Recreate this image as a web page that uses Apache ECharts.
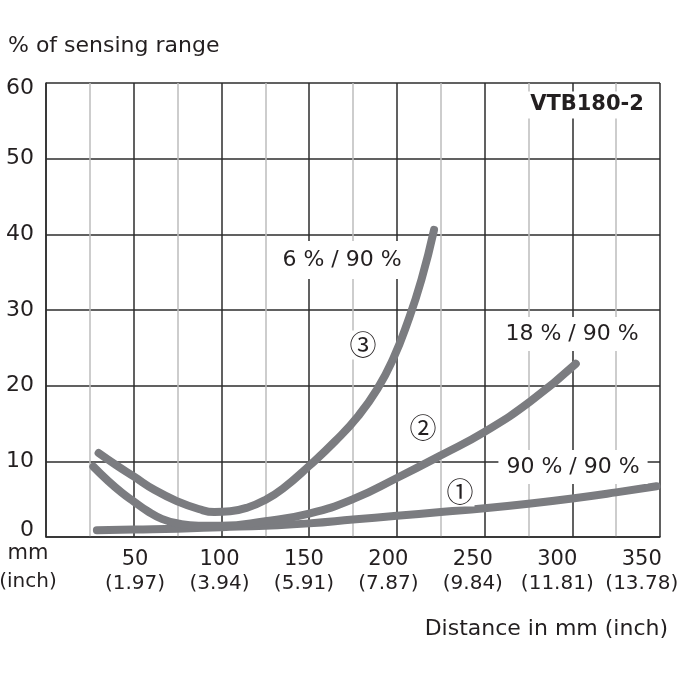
<!DOCTYPE html>
<html>
<head>
<meta charset="utf-8">
<script src="https://cdn.jsdelivr.net/npm/echarts@6/dist/echarts.min.js"></script>
<style>
  html, body { margin: 0; padding: 0; background: #fff; }
  #main { width: 680px; height: 680px; }
</style>
</head>
<body>
<div id="main"></div>
<script>
// tick labels
const mmTicks = [50, 100, 150, 200, 250, 300, 350];
const inchTicks = ['1.97', '3.94', '5.91', '7.87', '9.84', '11.81', '13.78'];

// curve 1: 90 % / 90 %
const dist1 = [29, 50, 75, 100, 125, 150, 175, 200, 225, 250, 275, 300, 325, 348];
const range1 = [0.9, 1.0, 1.1, 1.3, 1.5, 1.8, 2.3, 2.8, 3.3, 3.8, 4.4, 5.1, 5.9, 6.7];

// curve 2: 18 % / 90 %
const dist2 = [27, 35, 43, 50, 58, 66, 75, 87, 100, 125, 150, 175, 200, 226, 250, 276, 302];
const range2 = [9.3, 7.5, 5.9, 4.7, 3.4, 2.4, 1.8, 1.5, 1.5, 2.1, 3.1, 5.0, 7.8, 10.9, 13.9, 17.9, 22.9];

// curve 3: 6 % / 90 %
const dist3 = [30, 40, 50, 62, 75, 87, 96, 105, 115, 125, 135, 150, 165, 178, 189, 198, 206, 214, 221.2];
const range3 = [11.1, 9.5, 8.0, 6.2, 4.7, 3.7, 3.3, 3.4, 3.9, 4.9, 6.4, 9.4, 12.7, 16.0, 19.6, 23.6, 28.3, 34.0, 40.6];

const FONT = '"DejaVu Sans", "Noto Sans", sans-serif';
const CIRCLED = '"Noto Sans CJK JP", "DejaVu Sans", sans-serif';
const INK = '#231f20';
const CURVE = '#7b7c80';

const pairs = (xs, ys) => xs.map((x, i) => [x, ys[i]]);

const curve = (name, xs, ys) => ({
  name: name,
  type: 'line',
  data: pairs(xs, ys),
  smooth: 0.5,
  symbol: 'none',
  clip: false,
  lineStyle: { width: 8, color: CURVE, cap: 'round', join: 'round' }
});

const note = (text, x, y, align, size) => ({
  type: 'text',
  z: 100,
  style: {
    text: text, x: x, y: y, align: align, verticalAlign: 'middle',
    font: (size || 22) + 'px ' + FONT, fill: INK
  }
});

const boxed = (text, x, y, font, pad) => ({
  type: 'text',
  z: 100,
  style: {
    text: text, x: x, y: y, align: 'center', verticalAlign: 'middle',
    font: font, fill: INK, backgroundColor: '#fff', padding: pad
  }
});

const myChart = echarts.init(document.getElementById('main'));
const option = {
  animation: false,
  backgroundColor: '#fff',
  grid: { left: 46, right: 20, top: 83, bottom: 143, outerBoundsMode: 'none' },
  xAxis: [
    {
      type: 'value',
      min: 0,
      max: 350,
      interval: 50,
      axisLine: { show: true, lineStyle: { color: '#2d2d2d', width: 1.5 } },
      axisTick: { show: false },
      axisLabel: { show: false },
      splitLine: { show: true, lineStyle: { color: '#2d2d2d', width: 1.5 } },
      minorTick: { show: false, splitNumber: 2 },
      minorSplitLine: { show: true, lineStyle: { color: '#bdbdbd', width: 1.5 } }
    },
    {
      // label-only axis: the printed labels sit slightly left of the grid lines
      type: 'value',
      min: -2.7,
      max: 360.8,
      position: 'bottom',
      axisLine: { show: false },
      axisTick: { show: false },
      splitLine: { show: false },
      axisLabel: {
        customValues: mmTicks,
        margin: 11,
        formatter: function (v) {
          const i = mmTicks.indexOf(v);
          if (i < 0) return '';
          return '{a|' + v + '}\n{b|(' + inchTicks[i] + ')}';
        },
        rich: {
          a: { fontFamily: FONT, fontSize: 21, color: INK, lineHeight: 24 },
          b: { fontFamily: FONT, fontSize: 20, color: INK, lineHeight: 24 }
        }
      }
    }
  ],
  yAxis: {
    type: 'value',
    min: 0,
    max: 60,
    interval: 10,
    axisLine: { show: true, lineStyle: { color: '#2d2d2d', width: 1.5 } },
    axisTick: { show: false },
    splitLine: { show: true, lineStyle: { color: '#2d2d2d', width: 1.5 } },
    axisLabel: {
      margin: 12,
      formatter: function (v) {
        if (v === 60) return '{top|60}';
        if (v === 0) return '{bot|0}';
        return '{n|' + v + '}';
      },
      rich: {
        n: { fontFamily: FONT, fontSize: 22, color: INK },
        top: { fontFamily: FONT, fontSize: 22, color: INK, padding: [10, 0, 0, 0] },
        bot: { fontFamily: FONT, fontSize: 22, color: INK, padding: [0, 0, 14, 0] }
      }
    }
  },
  series: [
    curve('90 % / 90 %', dist1, range1),
    curve('18 % / 90 %', dist2, range2),
    curve('6 % / 90 %', dist3, range3)
  ],
  graphic: [
    note('% of sensing range', 8, 46, 'left'),
    note('mm', 28, 554, 'center', 21),
    note('(inch)', 28, 582, 'center', 20),
    note('Distance in mm (inch)', 668, 629, 'right'),
    boxed('VTB180-2', 587, 105, 'bold 21px ' + FONT, [3, 4]),
    boxed('6 % / 90 %', 342, 260, '22px ' + FONT, [8, 4]),
    boxed('18 % / 90 %', 572, 334, '22px ' + FONT, [6, 4]),
    boxed('90 % / 90 %', 573, 467, '22px ' + FONT, [6, 8]),
    boxed('\u2462', 363, 345, '27px ' + CIRCLED, [1, 1]),
    boxed('\u2461', 423, 428, '27px ' + CIRCLED, [1, 1]),
    boxed('\u2460', 460, 492, '27px ' + CIRCLED, [1, 1])
  ]
};
myChart.setOption(option);
</script>
</body>
</html>
